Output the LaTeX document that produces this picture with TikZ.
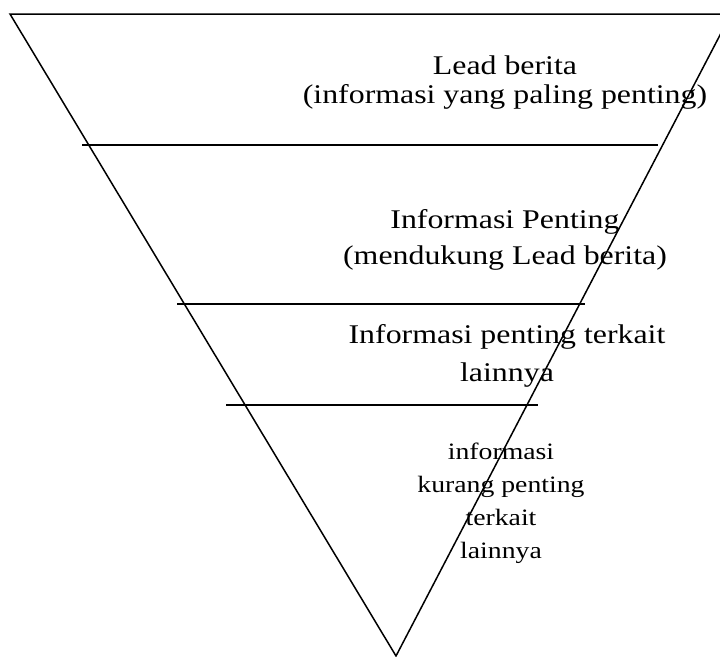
\documentclass[tikz,border=0pt]{standalone}
\usepackage{fontspec}
\setmainfont{Liberation Serif}

\begin{document}
\begin{tikzpicture}[x=1pt,y=-1pt,line width=1.5pt,
    lnode/.style={align=center,xscale=1.18,font=\fontsize{27}{29}\selectfont},
    snode/.style={align=center,xscale=1.18,font=\fontsize{23.5}{33}\selectfont}]
    \useasboundingbox (0,0) rectangle (720,656);
    \clip (0,0) rectangle (720,656);

    \coordinate (tl) at (10,14);
    \coordinate (tr) at (731,14);
    \coordinate (bot) at (396,656);
    \coordinate (s1l) at (82,145);
    \coordinate (s1r) at (658,145);
    \coordinate (s2l) at (177,304);
    \coordinate (s2r) at (585,304);
    \coordinate (s3l) at (226,405);
    \coordinate (s3r) at (538,405);

    \node[lnode] (lead) at (505,83) {Lead berita\\(informasi yang paling penting)};
    \node[lnode,font=\fontsize{27}{36}\selectfont] (penting) at (505,240) {Informasi Penting\\(mendukung Lead berita)};
    \node[lnode,font=\fontsize{27}{38}\selectfont] (terkait) at (507,356) {Informasi penting terkait\\lainnya};
    \node[snode] (kurang) at (501,503) {informasi\\kurang penting\\terkait\\lainnya};

    \draw (tl) -- (tr) -- (bot) -- cycle;
    \draw (s1l) -- (s1r);
    \draw (s2l) -- (s2r);
    \draw (s3l) -- (s3r);
\end{tikzpicture}
\end{document}
